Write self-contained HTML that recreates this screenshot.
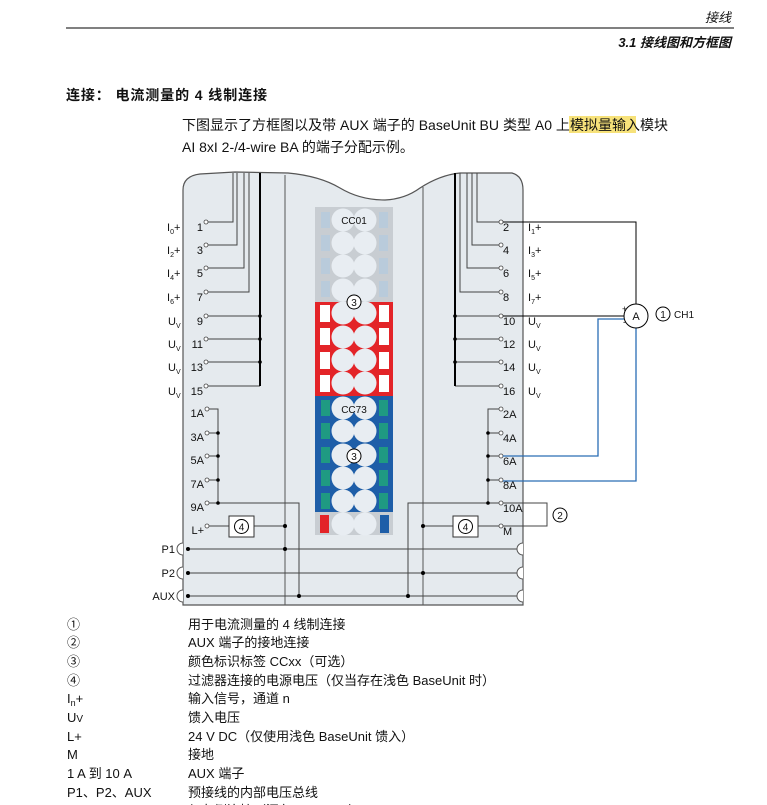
<!DOCTYPE html>
<html><head><meta charset="utf-8"><style>
body{margin:0;background:#fff;width:767px;height:805px;overflow:hidden}
svg{display:block}
text{font-family:"Liberation Sans","Noto Sans CJK SC",sans-serif;fill:#111}
</style></head><body>
<svg width="767" height="805" viewBox="0 0 767 805" xmlns="http://www.w3.org/2000/svg">
<!-- header -->
<text x="731" y="22" font-size="13" text-anchor="end" font-style="italic">接线</text>
<line x1="66" y1="28" x2="734" y2="28" stroke="#000" stroke-width="1"/>
<text x="731" y="47" font-size="13" text-anchor="end" font-style="italic" font-weight="bold">3.1 接线图和方框图</text>
<text x="66" y="100" font-size="14" font-weight="bold" textLength="201" lengthAdjust="spacing">连接： 电流测量的 4 线制连接</text>
<rect x="569" y="116" width="67" height="17" fill="#f7e27a"/>
<text x="182" y="130" font-size="14" textLength="486" lengthAdjust="spacing">下图显示了方框图以及带 AUX 端子的 BaseUnit BU 类型 A0 上模拟量输入模块</text>
<text x="182" y="152" font-size="14">AI 8xI 2-/4-wire BA 的端子分配示例。</text>

<!-- body -->
<path d="M183,605 L183,190 Q183,176 200,174 L235,172 L288,173 Q320,176 340,188 Q360,200 385,200 Q405,199 420,188 Q440,175 460,173 L512,173 Q523,176 523,190 L523,605 Z" fill="#e5eaee" stroke="#555" stroke-width="1.2"/>
<line x1="285" y1="175" x2="285" y2="605" stroke="#555" stroke-width="1"/>
<line x1="423" y1="187" x2="423" y2="605" stroke="#555" stroke-width="1"/>

<!-- color strip -->
<rect x="315" y="207" width="78" height="95" fill="#c8cdd2"/>
<rect x="315" y="302" width="78" height="94" fill="#e32428"/>
<rect x="315" y="396" width="78" height="116" fill="#1e5ea8"/>
<rect x="315" y="512" width="78" height="23" fill="#c8cdd2"/>
<g fill="#b9cbdb">
<rect x="321" y="212" width="9" height="16"/><rect x="379" y="212" width="9" height="16"/>
<rect x="321" y="235" width="9" height="16"/><rect x="379" y="235" width="9" height="16"/>
<rect x="321" y="258" width="9" height="16"/><rect x="379" y="258" width="9" height="16"/>
<rect x="321" y="281" width="9" height="16"/><rect x="379" y="281" width="9" height="16"/>
</g>
<g fill="#fff">
<rect x="320" y="305" width="10" height="17"/><rect x="379" y="305" width="10" height="17"/>
<rect x="320" y="328" width="10" height="17"/><rect x="379" y="328" width="10" height="17"/>
<rect x="320" y="352" width="10" height="17"/><rect x="379" y="352" width="10" height="17"/>
<rect x="320" y="375" width="10" height="17"/><rect x="379" y="375" width="10" height="17"/>
</g>
<g fill="#1f9a82">
<rect x="321" y="400" width="9" height="16"/><rect x="379" y="400" width="9" height="16"/>
<rect x="321" y="423" width="9" height="16"/><rect x="379" y="423" width="9" height="16"/>
<rect x="321" y="447" width="9" height="16"/><rect x="379" y="447" width="9" height="16"/>
<rect x="321" y="470" width="9" height="16"/><rect x="379" y="470" width="9" height="16"/>
<rect x="321" y="493" width="9" height="16"/><rect x="379" y="493" width="9" height="16"/>
</g>
<rect x="320" y="515" width="9" height="18" fill="#e32428"/>
<rect x="380" y="515" width="9" height="18" fill="#1e5ea8"/>
<g fill="#e8edf2">
<circle cx="343" cy="220" r="11.5"/><circle cx="365" cy="220" r="11.5"/>
<circle cx="343" cy="243" r="11.5"/><circle cx="365" cy="243" r="11.5"/>
<circle cx="343" cy="266" r="11.5"/><circle cx="365" cy="266" r="11.5"/>
<circle cx="343" cy="290" r="11.5"/><circle cx="365" cy="290" r="11.5"/>
<circle cx="343" cy="313" r="11.5"/><circle cx="365" cy="313" r="11.5"/>
<circle cx="343" cy="337" r="11.5"/><circle cx="365" cy="337" r="11.5"/>
<circle cx="343" cy="360" r="11.5"/><circle cx="365" cy="360" r="11.5"/>
<circle cx="343" cy="383" r="11.5"/><circle cx="365" cy="383" r="11.5"/>
<circle cx="343" cy="408" r="11.5"/><circle cx="365" cy="408" r="11.5"/>
<circle cx="343" cy="431" r="11.5"/><circle cx="365" cy="431" r="11.5"/>
<circle cx="343" cy="455" r="11.5"/><circle cx="365" cy="455" r="11.5"/>
<circle cx="343" cy="478" r="11.5"/><circle cx="365" cy="478" r="11.5"/>
<circle cx="343" cy="501" r="11.5"/><circle cx="365" cy="501" r="11.5"/>
<circle cx="343" cy="524" r="11.5"/><circle cx="365" cy="524" r="11.5"/>
</g>
<text x="354" y="224" font-size="10" text-anchor="middle">CC01</text>
<text x="354" y="413" font-size="10" text-anchor="middle">CC73</text>
<circle cx="354" cy="302" r="7" fill="#fff" stroke="#000"/><text x="354" y="306" font-size="10" text-anchor="middle">3</text>
<circle cx="354" cy="456" r="7" fill="#fff" stroke="#000"/><text x="354" y="460" font-size="10" text-anchor="middle">3</text>

<!-- left wiring -->
<g stroke="#444" stroke-width="1" fill="none">
<polyline points="208,222 233,222 233,173"/>
<polyline points="208,245 237,245 237,173"/>
<polyline points="208,268 244,268 244,173"/>
<polyline points="208,292 249,292 249,173"/>
<line x1="208" y1="316" x2="260" y2="316"/>
<line x1="208" y1="339" x2="260" y2="339"/>
<line x1="208" y1="362" x2="260" y2="362"/>
<line x1="208" y1="386" x2="260" y2="386"/>
<polyline points="209,409 218,409 218,503"/>
<line x1="209" y1="433" x2="218" y2="433"/><line x1="209" y1="456" x2="218" y2="456"/><line x1="209" y1="480" x2="218" y2="480"/>
<polyline points="209,503 299,503 299,596"/>
<line x1="209" y1="526" x2="229" y2="526"/><line x1="254" y1="526" x2="285" y2="526"/>
<!-- right -->
<polyline points="499,222 477,222 477,173"/>
<polyline points="499,245 472,245 472,173"/>
<polyline points="499,268 467,268 467,173"/>
<polyline points="499,292 460,292 460,173"/>
<line x1="455" y1="316" x2="499" y2="316"/>
<line x1="455" y1="339" x2="499" y2="339"/>
<line x1="455" y1="362" x2="499" y2="362"/>
<line x1="455" y1="386" x2="499" y2="386"/>
<polyline points="499,409 488,409 488,503"/>
<line x1="488" y1="433" x2="499" y2="433"/><line x1="488" y1="456" x2="499" y2="456"/><line x1="488" y1="480" x2="499" y2="480"/>
<polyline points="499,503 408,503 408,596"/>
<line x1="423" y1="526" x2="453" y2="526"/><line x1="478" y1="526" x2="499" y2="526"/>
<polyline points="503,503 547,503 547,526 503,526"/>
<!-- buses -->
<line x1="186" y1="549" x2="520" y2="549"/>
<line x1="186" y1="573" x2="520" y2="573"/>
<line x1="186" y1="596" x2="520" y2="596"/>
</g>
<line x1="260" y1="173" x2="260" y2="386" stroke="#000" stroke-width="2"/>
<line x1="455" y1="173" x2="455" y2="386" stroke="#000" stroke-width="2"/>
<g fill="#000">
<circle cx="260" cy="316" r="1.8"/><circle cx="260" cy="339" r="1.8"/><circle cx="260" cy="362" r="1.8"/>
<circle cx="455" cy="316" r="1.8"/><circle cx="455" cy="339" r="1.8"/><circle cx="455" cy="362" r="1.8"/>
<circle cx="218" cy="433" r="1.8"/><circle cx="218" cy="456" r="1.8"/><circle cx="218" cy="480" r="1.8"/><circle cx="218" cy="503" r="1.8"/>
<circle cx="488" cy="433" r="1.8"/><circle cx="488" cy="456" r="1.8"/><circle cx="488" cy="480" r="1.8"/><circle cx="488" cy="503" r="1.8"/>
<circle cx="285" cy="526" r="2"/><circle cx="285" cy="549" r="2"/><circle cx="423" cy="526" r="2"/><circle cx="423" cy="573" r="2"/>
<circle cx="299" cy="596" r="2"/><circle cx="408" cy="596" r="2"/>
<circle cx="188" cy="549" r="2"/><circle cx="188" cy="573" r="2"/><circle cx="188" cy="596" r="2"/>
</g>
<!-- notches -->
<g fill="#fff" stroke="#555">
<path d="M183,543 A6,6 0 0 0 183,555"/><path d="M183,567 A6,6 0 0 0 183,579"/><path d="M183,590 A6,6 0 0 0 183,602"/>
<path d="M523,543 A6,6 0 0 0 523,555"/><path d="M523,567 A6,6 0 0 0 523,579"/><path d="M523,590 A6,6 0 0 0 523,602"/>
</g>
<!-- terminal circles -->
<g fill="#fff" stroke="#444" stroke-width="0.8">
<circle cx="206" cy="222" r="2"/><circle cx="206" cy="245" r="2"/><circle cx="206" cy="268" r="2"/><circle cx="206" cy="292" r="2"/>
<circle cx="206" cy="316" r="2"/><circle cx="206" cy="339" r="2"/><circle cx="206" cy="362" r="2"/><circle cx="206" cy="386" r="2"/>
<circle cx="207" cy="409" r="2"/><circle cx="207" cy="433" r="2"/><circle cx="207" cy="456" r="2"/><circle cx="207" cy="480" r="2"/><circle cx="207" cy="503" r="2"/><circle cx="207" cy="526" r="2"/>
<circle cx="501" cy="222" r="2"/><circle cx="501" cy="245" r="2"/><circle cx="501" cy="268" r="2"/><circle cx="501" cy="292" r="2"/>
<circle cx="501" cy="316" r="2"/><circle cx="501" cy="339" r="2"/><circle cx="501" cy="362" r="2"/><circle cx="501" cy="386" r="2"/>
<circle cx="501" cy="409" r="2"/><circle cx="501" cy="433" r="2"/><circle cx="501" cy="456" r="2"/><circle cx="501" cy="480" r="2"/><circle cx="501" cy="503" r="2"/><circle cx="501" cy="526" r="2"/>
</g>
<!-- boxes 4 -->
<rect x="229" y="516" width="25" height="21" fill="#fff" stroke="#333"/>
<circle cx="241.5" cy="526.5" r="7" fill="#fff" stroke="#000"/><text x="241.5" y="530.5" font-size="10" text-anchor="middle">4</text>
<rect x="453" y="516" width="25" height="21" fill="#fff" stroke="#333"/>
<circle cx="465.5" cy="526.5" r="7" fill="#fff" stroke="#000"/><text x="465.5" y="530.5" font-size="10" text-anchor="middle">4</text>
<circle cx="560" cy="515" r="7" fill="#fff" stroke="#000"/><text x="560" y="519" font-size="10" text-anchor="middle">2</text>

<!-- ammeter wiring -->
<polyline points="503,222 636,222 636,304" fill="none" stroke="#000" stroke-width="1"/>
<line x1="503" y1="316" x2="624" y2="316" stroke="#000" stroke-width="1"/>
<polyline points="628,319 598,319 598,456 503,456" fill="none" stroke="#2a6db5" stroke-width="1.3"/>
<polyline points="636,328 636,481 503,481" fill="none" stroke="#2a6db5" stroke-width="1.3"/>
<circle cx="636" cy="316" r="12" fill="#fff" stroke="#000"/>
<text x="636" y="320" font-size="11" text-anchor="middle">A</text>
<text x="622" y="312" font-size="9">+</text><text x="623" y="325" font-size="9">-</text>
<circle cx="663" cy="314" r="7" fill="#fff" stroke="#000"/><text x="663" y="318" font-size="10" text-anchor="middle">1</text>
<text x="674" y="318" font-size="10">CH1</text>

<!-- left labels -->
<g font-size="11">
<text x="203" y="231" text-anchor="end">1</text><text x="203" y="254" text-anchor="end">3</text>
<text x="203" y="277" text-anchor="end">5</text><text x="203" y="301" text-anchor="end">7</text>
<text x="203" y="325" text-anchor="end">9</text><text x="203" y="348" text-anchor="end">11</text>
<text x="203" y="371" text-anchor="end">13</text><text x="203" y="395" text-anchor="end">15</text>
<text x="204" y="417" text-anchor="end">1A</text><text x="204" y="441" text-anchor="end">3A</text>
<text x="204" y="464" text-anchor="end">5A</text><text x="204" y="488" text-anchor="end">7A</text>
<text x="204" y="511" text-anchor="end">9A</text><text x="204" y="534" text-anchor="end">L+</text>
<text x="175" y="553" text-anchor="end">P1</text><text x="175" y="577" text-anchor="end">P2</text>
<text x="175" y="600" text-anchor="end">AUX</text>
<text x="167" y="231">I<tspan font-size="7" dy="3">0</tspan><tspan dy="-3">+</tspan></text>
<text x="167" y="254">I<tspan font-size="7" dy="3">2</tspan><tspan dy="-3">+</tspan></text>
<text x="167" y="277">I<tspan font-size="7" dy="3">4</tspan><tspan dy="-3">+</tspan></text>
<text x="167" y="301">I<tspan font-size="7" dy="3">6</tspan><tspan dy="-3">+</tspan></text>
<text x="168" y="325">U<tspan font-size="7" dy="3">V</tspan></text>
<text x="168" y="348">U<tspan font-size="7" dy="3">V</tspan></text>
<text x="168" y="371">U<tspan font-size="7" dy="3">V</tspan></text>
<text x="168" y="395">U<tspan font-size="7" dy="3">V</tspan></text>
<!-- right labels -->
<text x="503" y="231">2</text><text x="503" y="254">4</text><text x="503" y="277">6</text><text x="503" y="301">8</text>
<text x="503" y="325">10</text><text x="503" y="348">12</text><text x="503" y="371">14</text><text x="503" y="395">16</text>
<text x="503" y="418">2A</text><text x="503" y="442">4A</text><text x="503" y="465">6A</text><text x="503" y="489">8A</text>
<text x="503" y="512">10A</text><text x="503" y="535">M</text>
<text x="528" y="231">I<tspan font-size="7" dy="3">1</tspan><tspan dy="-3">+</tspan></text>
<text x="528" y="254">I<tspan font-size="7" dy="3">3</tspan><tspan dy="-3">+</tspan></text>
<text x="528" y="277">I<tspan font-size="7" dy="3">5</tspan><tspan dy="-3">+</tspan></text>
<text x="528" y="301">I<tspan font-size="7" dy="3">7</tspan><tspan dy="-3">+</tspan></text>
<text x="528" y="325">U<tspan font-size="7" dy="3">V</tspan></text>
<text x="528" y="348">U<tspan font-size="7" dy="3">V</tspan></text>
<text x="528" y="371">U<tspan font-size="7" dy="3">V</tspan></text>
<text x="528" y="395">U<tspan font-size="7" dy="3">V</tspan></text>
</g>

<!-- legend -->
<g font-size="13">
<text x="67" y="629">①</text><text x="188" y="629">用于电流测量的 4 线制连接</text>
<text x="67" y="647">②</text><text x="188" y="647">AUX 端子的接地连接</text>
<text x="67" y="666">③</text><text x="188" y="666">颜色标识标签 CCxx（可选）</text>
<text x="67" y="685">④</text><text x="188" y="685">过滤器连接的电源电压（仅当存在浅色 BaseUnit 时）</text>
<text x="67" y="703">I<tspan font-size="9" dy="3">n</tspan><tspan dy="-3">+</tspan></text><text x="188" y="703">输入信号，通道 n</text>
<text x="67" y="722">U<tspan font-size="10">V</tspan></text><text x="188" y="722">馈入电压</text>
<text x="67" y="741">L+</text><text x="188" y="741">24 V DC（仅使用浅色 BaseUnit 馈入）</text>
<text x="67" y="759">M</text><text x="188" y="759">接地</text>
<text x="67" y="778">1 A 到 10 A</text><text x="188" y="778">AUX 端子</text>
<text x="67" y="797">P1、P2、AUX</text><text x="188" y="797">预接线的内部电压总线</text>
<text x="188" y="815">与左侧连接（深色 BaseUnit）</text>
</g>
</svg>
</body></html>
